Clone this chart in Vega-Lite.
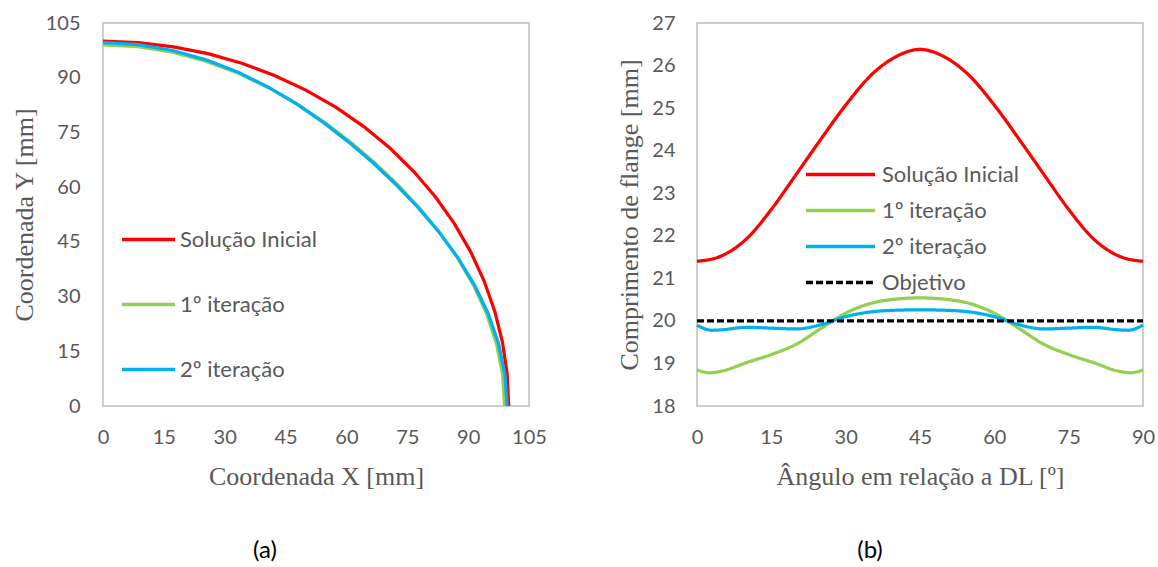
{
  "$schema": "https://vega.github.io/schema/vega-lite/v6.json",
  "background": "white",
  "padding": {"left": 10, "top": 12, "right": 5, "bottom": 0},
  "bounds": "flush",
  "spacing": 168,
  "resolve": {"scale": {"color": "independent", "strokeDash": "independent"}, "legend": {"color": "independent", "strokeDash": "independent"}},
  "config": {
    "view": {"stroke": "#BFBFBF", "strokeWidth": 1.5, "fill": "white"},
    "axis": {
      "grid": false, "domain": false, "ticks": false, "labelFlush": false,
      "labelFont": "Lato", "labelFontSize": 20, "labelColor": "#595959",
      "titleFont": "Liberation Serif", "titleFontSize": 26, "titleFontWeight": "normal", "titleColor": "#595959"
    },
    "axisX": {"labelPadding": 21, "titlePadding": 16},
    "legend": {
      "orient": "none", "title": null, "symbolType": "stroke", "symbolStrokeWidth": 3.5,
      "labelFont": "Lato", "labelFontSize": 22, "labelColor": "#595959", "labelOffset": 5, "padding": 0
    },
    "title": {"font": "Lato", "fontSize": 24, "color": "#000000", "fontWeight": "normal", "orient": "bottom", "frame": "group", "anchor": "middle", "offset": 50}
  },
  "hconcat": [
    {
      "width": 426,
      "height": 383,
      "title": {"text": "(a)", "dx": -51},
      "data": {"values": [
        {"s": "Solução Inicial", "a": 0, "x": 100, "y": 0},
        {"s": "Solução Inicial", "a": 5, "x": 99.62, "y": 8.72},
        {"s": "Solução Inicial", "a": 10, "x": 98.48, "y": 17.36},
        {"s": "Solução Inicial", "a": 15, "x": 96.59, "y": 25.88},
        {"s": "Solução Inicial", "a": 20, "x": 93.97, "y": 34.2},
        {"s": "Solução Inicial", "a": 25, "x": 90.63, "y": 42.26},
        {"s": "Solução Inicial", "a": 30, "x": 86.6, "y": 50},
        {"s": "Solução Inicial", "a": 35, "x": 81.92, "y": 57.36},
        {"s": "Solução Inicial", "a": 40, "x": 76.6, "y": 64.28},
        {"s": "Solução Inicial", "a": 45, "x": 70.71, "y": 70.71},
        {"s": "Solução Inicial", "a": 50, "x": 64.28, "y": 76.6},
        {"s": "Solução Inicial", "a": 55, "x": 57.36, "y": 81.92},
        {"s": "Solução Inicial", "a": 60, "x": 50, "y": 86.6},
        {"s": "Solução Inicial", "a": 65, "x": 42.26, "y": 90.63},
        {"s": "Solução Inicial", "a": 70, "x": 34.2, "y": 93.97},
        {"s": "Solução Inicial", "a": 75, "x": 25.88, "y": 96.59},
        {"s": "Solução Inicial", "a": 80, "x": 17.36, "y": 98.48},
        {"s": "Solução Inicial", "a": 85, "x": 8.72, "y": 99.62},
        {"s": "Solução Inicial", "a": 90, "x": 0, "y": 100},
        {"s": "1º iteração", "a": 0, "x": 99.0, "y": 0},
        {"s": "1º iteração", "a": 5, "x": 98.49, "y": 8.62},
        {"s": "1º iteração", "a": 10, "x": 96.98, "y": 17.1},
        {"s": "1º iteração", "a": 15, "x": 94.54, "y": 25.33},
        {"s": "1º iteração", "a": 20, "x": 91.28, "y": 33.22},
        {"s": "1º iteração", "a": 25, "x": 87.33, "y": 40.72},
        {"s": "1º iteração", "a": 30, "x": 82.81, "y": 47.81},
        {"s": "1º iteração", "a": 35, "x": 77.84, "y": 54.5},
        {"s": "1º iteração", "a": 40, "x": 72.49, "y": 60.83},
        {"s": "1º iteração", "a": 45, "x": 66.82, "y": 66.82},
        {"s": "1º iteração", "a": 50, "x": 60.83, "y": 72.49},
        {"s": "1º iteração", "a": 55, "x": 54.5, "y": 77.84},
        {"s": "1º iteração", "a": 60, "x": 47.81, "y": 82.81},
        {"s": "1º iteração", "a": 65, "x": 40.72, "y": 87.33},
        {"s": "1º iteração", "a": 70, "x": 33.22, "y": 91.28},
        {"s": "1º iteração", "a": 75, "x": 25.33, "y": 94.54},
        {"s": "1º iteração", "a": 80, "x": 17.1, "y": 96.98},
        {"s": "1º iteração", "a": 85, "x": 8.62, "y": 98.49},
        {"s": "1º iteração", "a": 90, "x": 0, "y": 99.0},
        {"s": "2º iteração", "a": 0, "x": 99.6, "y": 0},
        {"s": "2º iteração", "a": 5, "x": 99.06, "y": 8.67},
        {"s": "2º iteração", "a": 10, "x": 97.47, "y": 17.19},
        {"s": "2º iteração", "a": 15, "x": 94.9, "y": 25.43},
        {"s": "2º iteração", "a": 20, "x": 91.5, "y": 33.3},
        {"s": "2º iteração", "a": 25, "x": 87.4, "y": 40.75},
        {"s": "2º iteração", "a": 30, "x": 82.75, "y": 47.78},
        {"s": "2º iteração", "a": 35, "x": 77.68, "y": 54.39},
        {"s": "2º iteração", "a": 40, "x": 72.28, "y": 60.65},
        {"s": "2º iteração", "a": 45, "x": 66.61, "y": 66.61},
        {"s": "2º iteração", "a": 50, "x": 60.65, "y": 72.28},
        {"s": "2º iteração", "a": 55, "x": 54.39, "y": 77.68},
        {"s": "2º iteração", "a": 60, "x": 47.78, "y": 82.75},
        {"s": "2º iteração", "a": 65, "x": 40.75, "y": 87.4},
        {"s": "2º iteração", "a": 70, "x": 33.3, "y": 91.5},
        {"s": "2º iteração", "a": 75, "x": 25.43, "y": 94.9},
        {"s": "2º iteração", "a": 80, "x": 17.19, "y": 97.47},
        {"s": "2º iteração", "a": 85, "x": 8.67, "y": 99.06},
        {"s": "2º iteração", "a": 90, "x": 0, "y": 99.6}
      ]},
      "mark": {"type": "line", "strokeWidth": 3.25},
      "encoding": {
        "x": {"field": "x", "type": "quantitative", "scale": {"domain": [0, 105], "nice": false},
              "axis": {"values": [0, 15, 30, 45, 60, 75, 90, 105], "title": "Coordenada X [mm]"}},
        "y": {"field": "y", "type": "quantitative", "scale": {"domain": [0, 105], "nice": false},
              "axis": {"values": [0, 15, 30, 45, 60, 75, 90, 105], "title": "Coordenada Y [mm]", "labelPadding": 23, "titlePadding": 8}},
        "color": {"field": "s", "type": "nominal",
                  "scale": {"domain": ["Solução Inicial", "1º iteração", "2º iteração"], "range": ["#FF0000", "#92D050", "#00B0F0"]},
                  "legend": {"legendX": 17, "legendY": 188, "symbolSize": 2809, "rowPadding": 25, "labelOffset": 3}},
        "order": {"field": "a", "type": "quantitative"}
      }
    },
    {
      "width": 446,
      "height": 383,
      "title": {"text": "(b)", "dx": -50},
      "data": {"values": [
        {"s": "Solução Inicial", "a": 0, "v": 21.4},
        {"s": "Solução Inicial", "a": 5, "v": 21.53},
        {"s": "Solução Inicial", "a": 10, "v": 21.93},
        {"s": "Solução Inicial", "a": 15, "v": 22.62},
        {"s": "Solução Inicial", "a": 20, "v": 23.44},
        {"s": "Solução Inicial", "a": 25, "v": 24.27},
        {"s": "Solução Inicial", "a": 30, "v": 25.07},
        {"s": "Solução Inicial", "a": 35, "v": 25.76},
        {"s": "Solução Inicial", "a": 40, "v": 26.2},
        {"s": "Solução Inicial", "a": 45, "v": 26.38},
        {"s": "Solução Inicial", "a": 50, "v": 26.2},
        {"s": "Solução Inicial", "a": 55, "v": 25.76},
        {"s": "Solução Inicial", "a": 60, "v": 25.07},
        {"s": "Solução Inicial", "a": 65, "v": 24.27},
        {"s": "Solução Inicial", "a": 70, "v": 23.44},
        {"s": "Solução Inicial", "a": 75, "v": 22.62},
        {"s": "Solução Inicial", "a": 80, "v": 21.93},
        {"s": "Solução Inicial", "a": 85, "v": 21.53},
        {"s": "Solução Inicial", "a": 90, "v": 21.4},
        {"s": "1º iteração", "a": 0, "v": 18.85},
        {"s": "1º iteração", "a": 2.5, "v": 18.78},
        {"s": "1º iteração", "a": 5, "v": 18.82},
        {"s": "1º iteração", "a": 10, "v": 19.02},
        {"s": "1º iteração", "a": 15, "v": 19.21},
        {"s": "1º iteração", "a": 20, "v": 19.45},
        {"s": "1º iteração", "a": 25, "v": 19.82},
        {"s": "1º iteração", "a": 30, "v": 20.18},
        {"s": "1º iteração", "a": 35, "v": 20.41},
        {"s": "1º iteração", "a": 40, "v": 20.51},
        {"s": "1º iteração", "a": 45, "v": 20.54},
        {"s": "1º iteração", "a": 50, "v": 20.51},
        {"s": "1º iteração", "a": 55, "v": 20.41},
        {"s": "1º iteração", "a": 60, "v": 20.18},
        {"s": "1º iteração", "a": 65, "v": 19.82},
        {"s": "1º iteração", "a": 70, "v": 19.45},
        {"s": "1º iteração", "a": 75, "v": 19.21},
        {"s": "1º iteração", "a": 80, "v": 19.02},
        {"s": "1º iteração", "a": 85, "v": 18.82},
        {"s": "1º iteração", "a": 87.5, "v": 18.78},
        {"s": "1º iteração", "a": 90, "v": 18.85},
        {"s": "2º iteração", "a": 0, "v": 19.9},
        {"s": "2º iteração", "a": 3, "v": 19.78},
        {"s": "2º iteração", "a": 5, "v": 19.79},
        {"s": "2º iteração", "a": 10, "v": 19.85},
        {"s": "2º iteração", "a": 15, "v": 19.83},
        {"s": "2º iteração", "a": 20, "v": 19.81},
        {"s": "2º iteração", "a": 25, "v": 19.91},
        {"s": "2º iteração", "a": 30, "v": 20.1},
        {"s": "2º iteração", "a": 35, "v": 20.21},
        {"s": "2º iteração", "a": 40, "v": 20.25},
        {"s": "2º iteração", "a": 45, "v": 20.26},
        {"s": "2º iteração", "a": 50, "v": 20.25},
        {"s": "2º iteração", "a": 55, "v": 20.21},
        {"s": "2º iteração", "a": 60, "v": 20.1},
        {"s": "2º iteração", "a": 65, "v": 19.91},
        {"s": "2º iteração", "a": 70, "v": 19.81},
        {"s": "2º iteração", "a": 75, "v": 19.83},
        {"s": "2º iteração", "a": 80, "v": 19.85},
        {"s": "2º iteração", "a": 85, "v": 19.79},
        {"s": "2º iteração", "a": 87, "v": 19.78},
        {"s": "2º iteração", "a": 90, "v": 19.9},
        {"s": "Objetivo", "a": 0, "v": 20},
        {"s": "Objetivo", "a": 90, "v": 20}
      ]},
      "mark": {"type": "line", "strokeWidth": 3.25, "interpolate": "monotone"},
      "encoding": {
        "x": {"field": "a", "type": "quantitative", "scale": {"domain": [0, 90], "nice": false},
              "axis": {"values": [0, 15, 30, 45, 60, 75, 90], "title": "Ângulo em relação a DL [º]"}},
        "y": {"field": "v", "type": "quantitative", "scale": {"domain": [18, 27], "nice": false, "zero": false},
              "axis": {"values": [18, 19, 20, 21, 22, 23, 24, 25, 26, 27], "title": "Comprimento de flange [mm]", "labelPadding": 22, "titlePadding": 9}},
        "color": {"field": "s", "type": "nominal",
                  "scale": {"domain": ["Solução Inicial", "1º iteração", "2º iteração", "Objetivo"], "range": ["#FF0000", "#92D050", "#00B0F0", "#000000"]},
                  "legend": {"legendX": 130, "legendY": 138, "symbolType": "M-3,0H3", "symbolSize": 529, "rowPadding": 11, "labelOffset": 28}},
        "strokeDash": {"field": "s", "type": "nominal",
                  "scale": {"domain": ["Solução Inicial", "1º iteração", "2º iteração", "Objetivo"], "range": [[1, 0], [1, 0], [1, 0], [7, 3]]},
                  "legend": {"legendX": 130, "legendY": 138, "symbolType": "M-3,0H3", "symbolSize": 529, "rowPadding": 11, "labelOffset": 28}}
      }
    }
  ]
}
